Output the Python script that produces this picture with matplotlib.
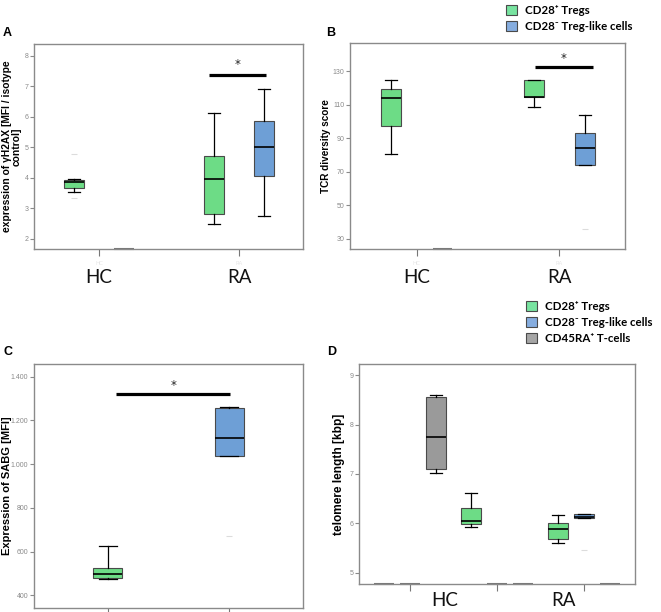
import matplotlib.pyplot as plt
import matplotlib.transforms as mtransforms
from matplotlib.patches import Patch

# box stats: (whislo, q1, med, q3, whishi)
# Panel A - gamma H2AX
a_groups = ["HC", "RA"]
a_tregs = [(3.55, 3.68, 3.87, 3.92, 3.97), (2.48, 2.81, 3.95, 4.73, 6.13)]
a_tregs_out = [[4.78, 3.34], []]
a_like = [None, (2.75, 4.06, 5.00, 5.87, 6.90)]
a_like_out = [[], []]

# Panel B - TCR diversity
b_groups = ["HC", "RA"]
b_tregs = [(81.0, 97.6, 114.1, 119.5, 125.0), (109.0, 115.0, 115.0, 125.0, 125.0)]
b_like = [None, (74.3, 74.3, 84.3, 93.0, 104.0)]
b_like_out = [[], [36.0]]

# Panel C - SABG
c_tregs = (473, 481, 498, 527, 625)
c_like = (1039, 1039, 1120, 1255, 1263)
c_like_out = [671]
c_ticks = [400, 600, 800, 1000, 1200, 1400]
c_ticklabels = ["400", "600", "800", "1.000", "1.200", "1.400"]

# Panel D - telomere length (3 clusters, 3 series)
d_groups = ["HC", "RA"]
d_tregs = [None, (5.93, 5.98, 6.045, 6.32, 6.61), (5.60, 5.68, 5.89, 6.00, 6.17)]
d_like = [None, None, (6.10, 6.10, 6.13, 6.18, 6.19)]
d_like_out = [[], [], [5.47]]
d_naive = [(7.02, 7.10, 7.75, 8.55, 8.60), None, None]

legend_labels = ["CD28⁺ Tregs", "CD28⁻ Treg-like cells", "CD45RA⁺ T-cells"]

green = "#6ddc86"
blue = "#6e9fd6"
grey = "#9a9a9a"
edge = "#4a4a4a"

fig = plt.figure(figsize=(6.61, 6.12), dpi=100)


def stat(s):
    lo, q1, med, q3, hi = s
    return dict(whislo=lo, q1=q1, med=med, q3=q3, whishi=hi, fliers=[])


def draw(ax, series, pos, color, width, outs=None, floor=None):
    for i, s in enumerate(series):
        if s is None:
            # empty group, SPSS draws a flat box on the floor
            if floor is not None:
                ax.hlines(floor, pos[i] - width / 2, pos[i] + width / 2,
                          color="#777777", lw=1.5, zorder=1, clip_on=False)
            continue
        ax.bxp([stat(s)], positions=[pos[i]], widths=width, patch_artist=True,
               showfliers=False, manage_ticks=False,
               boxprops=dict(facecolor=color, edgecolor=edge, lw=0.8),
               medianprops=dict(color="black", lw=1.2),
               whiskerprops=dict(color="black", lw=0.9),
               capprops=dict(color="black", lw=0.9), capwidths=width * 0.6)
        if outs is not None and outs[i]:
            ax.plot([pos[i]] * len(outs[i]), outs[i], ls="none", marker="_",
                    ms=4, color="#dcdcdc", mew=0.8)


def style(ax):
    for sp in ax.spines.values():
        sp.set_color("#8a8a8a")
        sp.set_linewidth(1.0)
    ax.tick_params(axis="y", labelsize=5, colors="#8a8a8a", length=3, width=0.8,
                   pad=1, labelfontfamily="Liberation Sans")
    ax.tick_params(axis="x", colors="#777777", length=5, width=0.8,
                   labelsize=4, labelcolor="#e6e6e6")


def sig(ax, x0, x1, y, ys):
    ax.plot([x0, x1], [y, y], color="black", lw=2.3, solid_capstyle="butt")
    ax.text((x0 + x1) / 2, ys, "*", ha="center", va="center", fontsize=8.5,
            color="#222222")


def cat_labels(ax, xs, labels, y):
    tr = mtransforms.blended_transform_factory(ax.transData, fig.transFigure)
    for x, l in zip(xs, labels):
        ax.text(x, y, l, transform=tr, ha="center", va="center",
                fontsize=13.5, family="Lato", color="#111111")


def legend(ax, n, x, y):
    cols = ["#78e3a0", "#86addf", "#a5a5a5"]
    h = [Patch(facecolor=cols[i], edgecolor=edge, lw=0.8, label=legend_labels[i])
         for i in range(n)]
    ax.legend(handles=h, loc="upper left", bbox_to_anchor=(x / 661, 1 - y / 612),
              bbox_transform=fig.transFigure, frameon=False, handlelength=1.0,
              handleheight=1.0, handletextpad=0.7, labelspacing=0.42,
              borderaxespad=0,
              prop=dict(family=["Lato", "DejaVu Sans"], weight="bold", size=8.3))


def lab(size):
    return dict(fontsize=size, fontweight="bold", family="Liberation Sans")


off = 0.18

# ---- A
axA = fig.add_axes([0.0514, 0.5931, 0.407, 0.335])
draw(axA, a_tregs, [0 - off, 1 - off], green, 0.14, a_tregs_out, floor=1.67)
draw(axA, a_like, [0 + off, 1 + off], blue, 0.14, a_like_out, floor=1.67)
axA.set_xlim(-0.464, 1.457)
axA.set_ylim(1.67, 8.39)
axA.set_yticks(range(2, 9))
axA.set_xticks([0, 1])
axA.set_xticklabels(a_groups)
style(axA)
sig(axA, 1 - 0.215, 1 + 0.19, 7.37, 7.72)
axA.set_ylabel("expression of γH2AX [MFI / isotype\ncontrol]",
               linespacing=0.9, **lab(7.4))
axA.yaxis.set_label_coords(-0.046, 0.5)
cat_labels(axA, [0, 1], a_groups, 1 - 278 / 612)

# ---- B
axB = fig.add_axes([0.5295, 0.5931, 0.4156, 0.3366])
draw(axB, b_tregs, [0 - off, 1 - off], green, 0.14, floor=24)
draw(axB, b_like, [0 + off, 1 + off], blue, 0.14, b_like_out, floor=24)
axB.set_xlim(-0.47, 1.46)
axB.set_ylim(24, 147)
axB.set_yticks(range(30, 131, 20))
axB.set_xticks([0, 1])
axB.set_xticklabels(b_groups)
style(axB)
sig(axB, 1 - 0.17, 1 + 0.235, 132.6, 137.8)
axB.set_ylabel("TCR diversity score", **lab(7.2))
axB.yaxis.set_label_coords(-0.068, 0.5)
cat_labels(axB, [0, 1], b_groups, 1 - 278 / 612)
legend(axB, 2, 501, 0)

# ---- C
axC = fig.add_axes([0.0514, 0.0065, 0.407, 0.3987])
draw(axC, [c_tregs], [0], green, 0.24)
draw(axC, [c_like], [1], blue, 0.24, [c_like_out])
axC.set_xlim(-0.61, 1.61)
axC.set_ylim(342, 1458)
axC.set_yticks(c_ticks)
axC.set_yticklabels(c_ticklabels)
axC.set_xticks([0, 1])
axC.set_xticklabels(["", ""])
style(axC)
sig(axC, 0.07, 1.01, 1319, 1362)
axC.set_ylabel("Expression of SABG [MFI]", **lab(8.0))
axC.yaxis.set_label_coords(-0.08, 0.5)

# ---- D
axD = fig.add_axes([0.5436, 0.0463, 0.4176, 0.3585])
doff = 0.3
cl = [0, 1, 2]
draw(axD, d_tregs, [c - doff for c in cl], green, 0.23, floor=4.78)
draw(axD, d_like, [c for c in cl], blue, 0.23, d_like_out, floor=4.78)
draw(axD, d_naive, [c + doff for c in cl], grey, 0.23, floor=4.78)
axD.set_xlim(-0.583, 2.59)
axD.set_ylim(4.78, 9.22)
axD.set_yticks(range(5, 10))
axD.set_xticks(cl)
axD.set_xticklabels(["", "", ""])
style(axD)
axD.set_ylabel("telomere length [kbp]", **lab(8.6))
axD.yaxis.set_label_coords(-0.052, 0.5)
cat_labels(axD, [0.40, 1.76], d_groups, 1 - 600 / 612)
legend(axD, 3, 521, 296)

# panel letters
for x, y, t in [(3, 33, "A"), (326, 33, "B"), (3, 352, "C"), (327, 352, "D")]:
    fig.text(x / 661, 1 - y / 612, t, fontsize=9, fontweight="bold",
             family="Liberation Sans", va="center", ha="left")

fig.savefig("out.png", dpi=100)
